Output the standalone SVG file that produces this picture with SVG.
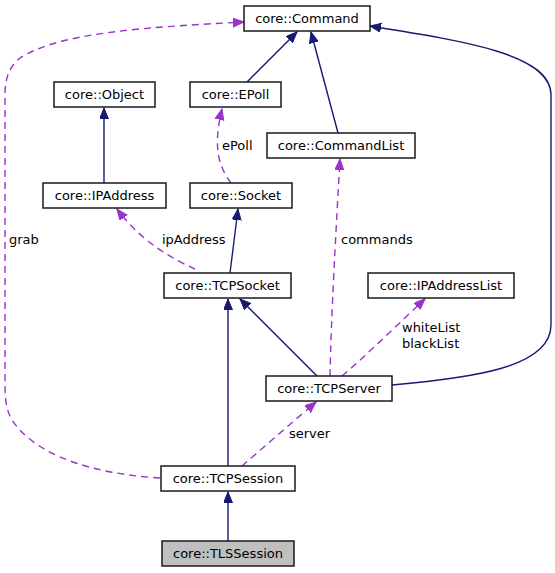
<svg xmlns="http://www.w3.org/2000/svg" width="555" height="573" viewBox="0 0 555 573">
<style>
.box{fill:#ffffff;stroke:#1a1a1a;stroke-width:1.5}
.hl{fill:#bfbfbf;stroke:#1a1a1a;stroke-width:1.5}
.t{font-family:"DejaVu Sans",sans-serif;font-size:13px;fill:#000;text-anchor:middle}
.lbl{font-family:"DejaVu Sans",sans-serif;font-size:13px;fill:#000}
.inh{fill:none;stroke:#191970;stroke-width:1.4}
.use{fill:none;stroke:#9a32cd;stroke-width:1.4;stroke-dasharray:7,5}
</style>
<defs>
<marker id="an" markerUnits="userSpaceOnUse" markerWidth="12" markerHeight="10" refX="11" refY="4.5" orient="auto">
<path d="M0,0 L11,4.5 L0,9 z" fill="#191970" stroke="#191970" stroke-width="1"/>
</marker>
<marker id="ap" markerUnits="userSpaceOnUse" markerWidth="12" markerHeight="10" refX="11" refY="4.5" orient="auto">
<path d="M0,0 L11,4.5 L0,9 z" fill="#9a32cd" stroke="#9a32cd" stroke-width="1"/>
</marker>
</defs>
<g id="connectors">
<path class="inh" d="M247,82 L297,32" marker-end="url(#an)"/>
<path class="inh" d="M338,133 L311,32" marker-end="url(#an)"/>
<path class="inh" d="M392,385 C470,378 551,368 551,325 L551,95 C551,55 470,42 370,26" marker-end="url(#an)"/>
<path class="inh" d="M104,183 L104,108" marker-end="url(#an)"/>
<path class="use" d="M231,183 C220,168 212,150 222,109" marker-end="url(#ap)"/>
<path class="inh" d="M230,273 L238,209" marker-end="url(#an)"/>
<path class="use" d="M195,269 C170,258 140,240 117,209" marker-end="url(#ap)"/>
<path class="inh" d="M317,376 L240,299" marker-end="url(#an)"/>
<path class="inh" d="M228,466 L228,299" marker-end="url(#an)"/>
<path class="use" d="M330,376 C331,320 336,230 340,159" marker-end="url(#ap)"/>
<path class="use" d="M342,376 C368,354 400,322 425,299" marker-end="url(#ap)"/>
<path class="use" d="M242,466 C265,446 295,420 316,402" marker-end="url(#ap)"/>
<path class="use" d="M160,478 C110,475 40,462 12,420 C5,408 5,395 5,380 L5,95 C5,80 8,68 20,58 C60,32 150,27 244,22" marker-end="url(#ap)"/>
<path class="inh" d="M228,541 L228,492" marker-end="url(#an)"/>
<text class="lbl" x="222" y="150">ePoll</text>
<text class="lbl" x="162" y="244">ipAddress</text>
<text class="lbl" x="341" y="244">commands</text>
<text class="lbl" x="402" y="332">whiteList</text>
<text class="lbl" x="402" y="348">blackList</text>
<text class="lbl" x="289" y="438">server</text>
<text class="lbl" x="9" y="244">grab</text>
</g>
<g id="command"><rect class="box" x="244" y="6" width="126" height="25"/><text class="t" x="307" y="23">core::Command</text></g>
<g id="object"><rect class="box" x="54" y="82" width="101" height="25"/><text class="t" x="104.5" y="99">core::Object</text></g>
<g id="epoll"><rect class="box" x="190" y="82" width="91" height="25"/><text class="t" x="235.5" y="99">core::EPoll</text></g>
<g id="commandlist"><rect class="box" x="267" y="133" width="148" height="25"/><text class="t" x="341" y="150">core::CommandList</text></g>
<g id="ipaddress"><rect class="box" x="43" y="183" width="123" height="25"/><text class="t" x="104.5" y="200">core::IPAddress</text></g>
<g id="socket"><rect class="box" x="190" y="183" width="102" height="25"/><text class="t" x="241" y="200">core::Socket</text></g>
<g id="tcpsocket"><rect class="box" x="164" y="273" width="127" height="25"/><text class="t" x="227.5" y="290">core::TCPSocket</text></g>
<g id="ipaddresslist"><rect class="box" x="368" y="273" width="146" height="25"/><text class="t" x="441" y="290">core::IPAddressList</text></g>
<g id="tcpserver"><rect class="box" x="266" y="376" width="126" height="25"/><text class="t" x="329" y="393">core::TCPServer</text></g>
<g id="tcpsession"><rect class="box" x="161" y="466" width="134" height="25"/><text class="t" x="228" y="483">core::TCPSession</text></g>
<g id="tlssession"><rect class="hl" x="162" y="541" width="132" height="25"/><text class="t" x="228" y="558">core::TLSSession</text></g>
</svg>
